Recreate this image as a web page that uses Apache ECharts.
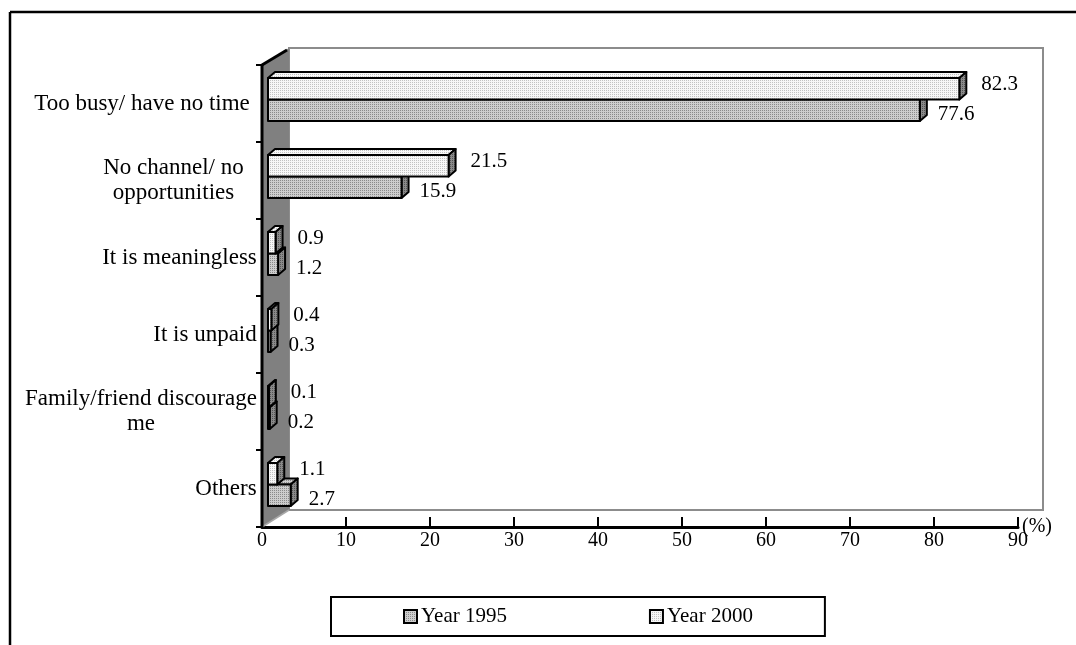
<!DOCTYPE html>
<html>
<head>
<meta charset="utf-8">
<script src="https://cdn.jsdelivr.net/npm/echarts@6/dist/echarts.min.js"></script>
<style>
  html, body { margin: 0; padding: 0; background: #fff; }
  #chart { width: 1076px; height: 645px; }
</style>
</head>
<body>
<div id="chart"></div>
<script>
// Reasons given for not volunteering (%), surveys of 1995 and 2000
const categories = [
  'Too busy/ have no time',
  'No channel/ no\nopportunities',
  'It is meaningless',
  'It is unpaid',
  'Family/friend discourage\nme',
  'Others'
];
const year1995 = [77.6, 15.9, 1.2, 0.3, 0.2, 2.7];
const year2000 = [82.3, 21.5, 0.9, 0.4, 0.1, 1.1];
const seriesNames = ['Year 1995', 'Year 2000'];
const xMin = 0, xMax = 90, xStep = 10;
const unitLabel = '(%)';

// extra right padding of the wrapped / long category labels
const labelPadRight = [7, 13, 0, 0, 0, 0];

const FONT = '"Liberation Serif", "Times New Roman", serif';

// fine stipple fills
function stipple(bg, fg) {
  const c = document.createElement('canvas');
  c.width = 2; c.height = 2;
  const g = c.getContext('2d');
  g.fillStyle = bg; g.fillRect(0, 0, 2, 2);
  g.fillStyle = fg; g.fillRect(0, 0, 1, 1);
  return { image: c, repeat: 'repeat' };
}
const fill1995 = stipple('#cdcdcd', '#8a8a8a');
const fill2000 = stipple('#f7f7f7', '#c2c2c2');
const fillSide = stipple('#8a8a8a', '#555555');

// depth of the chart box and of each bar
const WALL_DX = 27, WALL_DY = -17;
const BAR_SHIFT_X = 6, BAR_SHIFT_Y = -4;
const BAR_DX = 7, BAR_DY = -6;

// per-category label styles: multi-line labels are centred line by line
const measureCtx = document.createElement('canvas').getContext('2d');
measureCtx.font = '23px ' + FONT;
const rich = {};
categories.forEach((c, i) => {
  const lines = c.split('\n');
  const w = Math.max(...lines.map(l => measureCtx.measureText(l).width));
  rich['m' + i] = {
    width: Math.ceil(w), align: 'center', fontSize: 23, fontFamily: FONT,
    lineHeight: 25, color: '#000', padding: [0, labelPadRight[i], 0, 0]
  };
});

function renderFrame(params, api) {
  const cs = params.coordSys;
  const L = cs.x, T = cs.y, R = cs.x + cs.width, B = cs.y + cs.height;
  return {
    type: 'group',
    children: [
      { type: 'rect', shape: { x: L + WALL_DX, y: T + WALL_DY, width: R - L - 2, height: B - T },
        style: { fill: '#fff', stroke: '#8c8c8c', lineWidth: 2 } },
      { type: 'polygon', shape: { points: [[L, T], [L + WALL_DX, T + WALL_DY], [L + WALL_DX, B + WALL_DY], [L, B]] },
        style: { fill: '#808080', stroke: null } },
      { type: 'line', shape: { x1: L, y1: B, x2: L + WALL_DX, y2: B + WALL_DY },
        style: { stroke: '#a8a8a8', lineWidth: 1.5 } },
      { type: 'line', shape: { x1: L, y1: T - 1, x2: L, y2: B + 1 },
        style: { stroke: '#000', lineWidth: 3 } },
      { type: 'line', shape: { x1: L, y1: T, x2: L + WALL_DX - 2, y2: T + WALL_DY + 2 },
        style: { stroke: '#000', lineWidth: 3 } }
    ]
  };
}

function makeBarRenderer(isUpper, frontFill) {
  return function (params, api) {
    const v = api.value(0);
    const c = api.value(1);
    const p0 = api.coord([0, c]);
    const p1 = api.coord([v, c]);
    const band = api.size([0, 1])[1];
    const h = band * 0.28;
    const mid = p0[1] + BAR_SHIFT_Y;
    const y1 = isUpper ? mid - h : mid;
    const x0 = p0[0] + BAR_SHIFT_X;
    const x1 = p1[0] + BAR_SHIFT_X;
    const edge = { stroke: '#000', lineWidth: 2, lineJoin: 'round' };
    return {
      type: 'group',
      children: [
        { type: 'polygon', shape: { points: [[x0, y1], [x0 + BAR_DX, y1 + BAR_DY], [x1 + BAR_DX, y1 + BAR_DY], [x1, y1]] },
          style: Object.assign({ fill: frontFill }, edge) },
        { type: 'polygon', shape: { points: [[x1, y1], [x1 + BAR_DX, y1 + BAR_DY], [x1 + BAR_DX, y1 + h + BAR_DY], [x1, y1 + h]] },
          style: Object.assign({ fill: fillSide }, edge) },
        { type: 'rect', shape: { x: x0, y: y1, width: Math.max(x1 - x0, 0.5), height: h },
          style: Object.assign({ fill: frontFill }, edge) },
        { type: 'text', style: {
            text: v.toFixed(1),
            x: x1 + BAR_DX + (isUpper ? 15 : 11),
            y: y1 + h / 2 + (isUpper ? -4 : 4),
            align: 'left', verticalAlign: 'middle',
            font: '21px ' + FONT, fill: '#000'
          } }
      ]
    };
  };
}

const chart = echarts.init(document.getElementById('chart'), null, { renderer: 'canvas' });
chart.setOption({
  animation: false,
  backgroundColor: '#fff',
  graphic: [
    { type: 'line', shape: { x1: 10, y1: 12, x2: 1076, y2: 12 }, style: { stroke: '#000', lineWidth: 2.5 } },
    { type: 'line', shape: { x1: 10, y1: 12, x2: 10, y2: 645 }, style: { stroke: '#000', lineWidth: 2.5 } }
  ],
  grid: { left: 262, top: 65, width: 756, height: 462, containLabel: false, show: false },
  legend: {
    left: 331, top: 597,
    padding: [9, 72, 9, 72],
    itemGap: 142,
    itemWidth: 13, itemHeight: 13,
    borderColor: '#000', borderWidth: 2,
    textStyle: { fontFamily: FONT, fontSize: 21, color: '#000', padding: [0, 0, 0, -1] },
    data: [
      { name: seriesNames[0], icon: 'rect', itemStyle: { color: fill1995, borderColor: '#000', borderWidth: 2 } },
      { name: seriesNames[1], icon: 'rect', itemStyle: { color: fill2000, borderColor: '#000', borderWidth: 2 } }
    ]
  },
  xAxis: {
    type: 'value', min: xMin, max: xMax, interval: xStep,
    name: unitLabel, nameLocation: 'end', nameGap: 4, nameMoveOverlap: false,
    nameTextStyle: { fontFamily: FONT, fontSize: 20, color: '#000', verticalAlign: 'middle', padding: [0, 0, 16, 0] },
    axisLine: { show: true, lineStyle: { color: '#000', width: 3 } },
    axisTick: { show: true, inside: true, length: 10, lineStyle: { color: '#000', width: 2 } },
    axisLabel: { fontFamily: FONT, fontSize: 20, color: '#000', margin: 4 },
    splitLine: { show: false }
  },
  yAxis: {
    type: 'category', data: categories, inverse: true,
    axisLine: { show: true, lineStyle: { color: '#000', width: 3 } },
    axisTick: { show: true, inside: false, length: 6, lineStyle: { color: '#000', width: 2 } },
    axisLabel: {
      fontFamily: FONT, fontSize: 23, color: '#000', margin: 5, lineHeight: 25,
      formatter: function (value, index) {
        return value.split('\n').map(l => '{m' + index + '|' + l + '}').join('\n');
      },
      rich: rich
    },
    splitLine: { show: false }
  },
  series: [
    {
      name: 'frame', type: 'custom', z: 1, clip: false, silent: true,
      renderItem: renderFrame,
      encode: { x: 0, y: 1 },
      data: [[0, 0]]
    },
    {
      name: seriesNames[0], type: 'custom', z: 3, clip: false,
      itemStyle: { color: fill1995, borderColor: '#000' },
      renderItem: makeBarRenderer(false, fill1995),
      encode: { x: 0, y: 1 },
      data: year1995.map((v, i) => [v, i])
    },
    {
      name: seriesNames[1], type: 'custom', z: 4, clip: false,
      itemStyle: { color: fill2000, borderColor: '#000' },
      renderItem: makeBarRenderer(true, fill2000),
      encode: { x: 0, y: 1 },
      data: year2000.map((v, i) => [v, i])
    }
  ]
});
</script>
</body>
</html>
